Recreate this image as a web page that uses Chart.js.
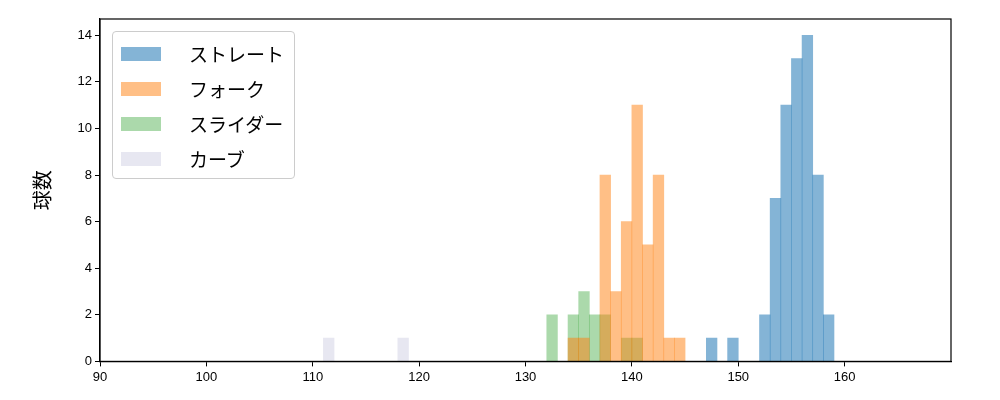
<!DOCTYPE html>
<html>
<head>
<meta charset="utf-8">
<script src="https://cdn.jsdelivr.net/npm/chart.js@4.4.0/dist/chart.umd.min.js"></script>
<style>
body { margin: 0; background: #fff; font-family: "DejaVu Sans", sans-serif; }
#wrap { position: relative; width: 1000px; height: 400px; }
#legend { position: absolute; left: 112px; top: 31px; border: 1px solid #ccc; border-radius: 4px; background: rgba(255,255,255,0.8); padding: 4px 10px 2px 8px; font-family: "Noto Sans CJK JP", sans-serif; font-size: 19px; }
.item { display: flex; align-items: center; height: 35px; }
.sw { width: 40px; height: 14px; margin-right: 28px; }
</style>
</head>
<body>
<div id="wrap">
<canvas id="c" width="1000" height="400"></canvas>
<div id="legend"></div>
</div>
<script>
// 球速の下限(各ビン幅 1km/h)
const straightBins = [147, 149, 152, 153, 154, 155, 156, 157, 158];
const straightCounts = [1, 1, 2, 7, 11, 13, 14, 8, 2];
const forkBins = [134, 135, 137, 138, 139, 140, 141, 142, 143, 144];
const forkCounts = [1, 1, 8, 3, 6, 11, 5, 8, 1, 1];
const sliderBins = [132, 134, 135, 136, 137, 139, 140];
const sliderCounts = [2, 2, 3, 2, 2, 1, 1];
const curveBins = [111, 118];
const curveCounts = [1, 1];
const xTicks = [90, 100, 110, 120, 130, 140, 150, 160];
const yTicks = [0, 2, 4, 6, 8, 10, 12, 14];

const series = [
    { label: 'ストレート', bins: straightBins, counts: straightCounts, color: 'rgba(31,119,180,0.55)' },
    { label: 'フォーク', bins: forkBins, counts: forkCounts, color: 'rgba(255,127,14,0.5)' },
    { label: 'スライダー', bins: sliderBins, counts: sliderCounts, color: 'rgba(44,160,44,0.4)' },
    { label: 'カーブ', bins: curveBins, counts: curveCounts, color: 'rgba(208,208,228,0.5)' }
];

const legend = document.getElementById('legend');
series.forEach(s => {
    const d = document.createElement('div');
    d.className = 'item';
    d.innerHTML = `<span class="sw" style="background:${s.color}"></span>${s.label}`;
    legend.appendChild(d);
});

new Chart(document.getElementById('c'), {
    type: 'bar',
    data: {
        datasets: series.map(s => ({
            label: s.label,
            data: s.bins.map((b, i) => ({ x: b + 0.5, y: s.counts[i] })),
            backgroundColor: s.color,
            borderWidth: 0,
            barPercentage: 1,
            categoryPercentage: 1,
            grouped: false
        }))
    },
    options: {
        responsive: false,
        animation: false,
        layout: { padding: { left: 30, right: 49, top: 19, bottom: 12 } },
        plugins: { legend: { display: false }, tooltip: { enabled: false } },
        scales: {
            x: {
                type: 'linear', min: 90, max: 170, offset: false,
                afterBuildTicks: a => { a.ticks = xTicks.map(v => ({ value: v })); },
                grid: { drawOnChartArea: false, offset: false, color: '#000', tickLength: 5 },
                border: { color: '#000', width: 1.2 },
                ticks: { color: '#000', font: { size: 13 } }
            },
            y: {
                min: 0, max: 14.7,
                afterBuildTicks: a => { a.ticks = yTicks.map(v => ({ value: v })); },
                grid: { drawOnChartArea: false, color: '#000', tickLength: 5 },
                border: { color: '#000', width: 1.2 },
                afterFit: a => { a.width = 70; },
                ticks: { color: '#000', font: { size: 13 } },
                title: { display: true, text: '球数', color: '#000', padding: 0, font: { size: 20, family: 'Noto Sans CJK JP' } }
            }
        }
    },
    plugins: [{
        id: 'frame',
        afterDraw(chart) {
            const { ctx, chartArea: a } = chart;
            ctx.save();
            ctx.strokeStyle = '#000';
            ctx.lineWidth = 1.2;
            ctx.strokeRect(a.left, a.top, a.right - a.left, a.bottom - a.top);
            ctx.restore();
        }
    }]
});
</script>
</body>
</html>
